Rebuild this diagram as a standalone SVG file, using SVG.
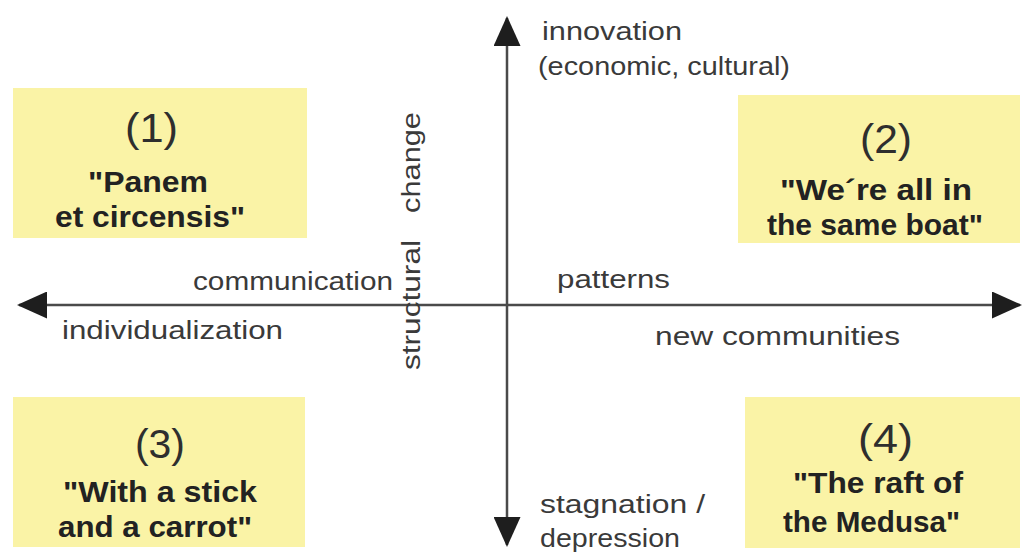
<svg xmlns="http://www.w3.org/2000/svg" width="1023" height="556" viewBox="0 0 1023 556">
  <style>
    .box { fill: #faf3a6; }
    .num { font-family: "Liberation Sans", Arial, sans-serif; font-size: 40px; fill: #2e2e2e; text-anchor: start; }
    .title { font-family: "Liberation Sans", Arial, sans-serif; font-size: 30px; font-weight: bold; fill: #222; }
    .lbl { font-family: "Liberation Sans", Arial, sans-serif; font-size: 26px; fill: #3a3a3a; }
    .axis { stroke: #4a4a4a; stroke-width: 2.5; fill: none; }
  </style>
  <defs>
    <marker id="head" markerUnits="userSpaceOnUse" markerWidth="30" markerHeight="27" refX="28" refY="13.5" orient="auto-start-reverse">
      <path d="M0,0 L30,13.5 L0,27 Z" fill="#1e1e1e"/>
    </marker>
  </defs>
  <rect width="1023" height="556" fill="#ffffff"/>

  <!-- quadrant boxes -->
  <g id="q1">
    <rect class="box" x="13" y="88" width="294" height="150"/>
    <text class="num" x="125" y="142" textLength="53" lengthAdjust="spacingAndGlyphs">(1)</text>
    <text class="title" x="88" y="192" textLength="120" lengthAdjust="spacingAndGlyphs">"Panem</text>
    <text class="title" x="55" y="227" textLength="190" lengthAdjust="spacingAndGlyphs">et circensis"</text>
  </g>
  <g id="q2">
    <rect class="box" x="738" y="95" width="282" height="148"/>
    <text class="num" x="860" y="153" textLength="52" lengthAdjust="spacingAndGlyphs">(2)</text>
    <text class="title" x="780" y="200" textLength="192" lengthAdjust="spacingAndGlyphs">"We´re all in</text>
    <text class="title" x="767" y="235" textLength="216" lengthAdjust="spacingAndGlyphs">the same boat"</text>
  </g>
  <g id="q3">
    <rect class="box" x="13" y="397" width="292" height="150"/>
    <text class="num" x="135" y="458" textLength="50" lengthAdjust="spacingAndGlyphs">(3)</text>
    <text class="title" x="63" y="502" textLength="194" lengthAdjust="spacingAndGlyphs">"With a stick</text>
    <text class="title" x="58" y="537" textLength="194" lengthAdjust="spacingAndGlyphs">and a carrot"</text>
  </g>
  <g id="q4">
    <rect class="box" x="745" y="397" width="275" height="151"/>
    <text class="num" x="858" y="453" textLength="55" lengthAdjust="spacingAndGlyphs">(4)</text>
    <text class="title" x="793" y="493" textLength="170" lengthAdjust="spacingAndGlyphs">"The raft of</text>
    <text class="title" x="783" y="532" textLength="177" lengthAdjust="spacingAndGlyphs">the Medusa"</text>
  </g>

  <!-- axes -->
  <g id="connectors">
    <line class="axis" x1="507" y1="545" x2="507" y2="18" marker-start="url(#head)" marker-end="url(#head)"/>
    <line class="axis" x1="19" y1="305" x2="1020" y2="305" marker-start="url(#head)" marker-end="url(#head)"/>
  </g>

  <!-- axis labels -->
  <g id="labels">
    <text class="lbl" x="542" y="40" textLength="140" lengthAdjust="spacingAndGlyphs">innovation</text>
    <text class="lbl" x="538" y="75" textLength="252" lengthAdjust="spacingAndGlyphs">(economic, cultural)</text>
    <text class="lbl" x="193" y="290" textLength="200" lengthAdjust="spacingAndGlyphs">communication</text>
    <text class="lbl" x="62" y="339" textLength="221" lengthAdjust="spacingAndGlyphs">individualization</text>
    <text class="lbl" x="557" y="288" textLength="113" lengthAdjust="spacingAndGlyphs">patterns</text>
    <text class="lbl" x="655" y="345" textLength="245" lengthAdjust="spacingAndGlyphs">new communities</text>
    <text class="lbl" x="540" y="513" textLength="165" lengthAdjust="spacingAndGlyphs">stagnation /</text>
    <text class="lbl" x="540" y="547" textLength="140" lengthAdjust="spacingAndGlyphs">depression</text>
    <text class="lbl" transform="translate(420,370) rotate(-90)" textLength="130" lengthAdjust="spacingAndGlyphs">structural</text>
    <text class="lbl" transform="translate(420,213) rotate(-90)" textLength="101" lengthAdjust="spacingAndGlyphs">change</text>
  </g>
</svg>
